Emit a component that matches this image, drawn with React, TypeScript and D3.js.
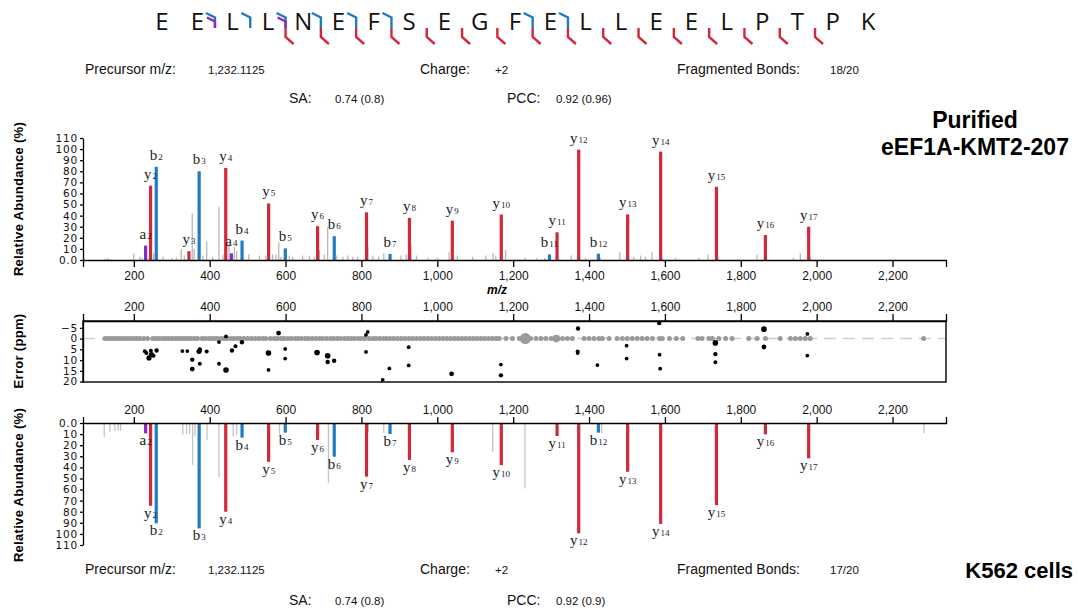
import React, { useEffect, useRef } from "react";
import * as d3 from "d3";

// peptide and which bonds were seen (gap n sits between residue n and n+1)
const sequence = ["E", "E", "L", "L", "N", "E", "F", "S", "E", "G", "F", "E", "L", "L", "E", "E", "L", "P", "T", "P", "K"];
const bGaps = [2, 3, 4, 5, 6, 7, 11, 12];
const aGaps = [2, 4];
const yGaps = [4, 5, 6, 7, 8, 9, 10, 11, 12, 13, 14, 15, 16, 17, 18, 19];

// [ion type, number, m/z, relative abundance]
const topIons: [string, number, number, number][] = [
  ["a", 2, 231.1, 13], ["y", 2, 244.17, 67], ["b", 2, 259.09, 84], ["y", 3, 345.21, 8],
  ["b", 3, 372.18, 80], ["y", 4, 442.27, 83], ["a", 4, 457.27, 6], ["b", 4, 485.26, 17.5],
  ["y", 5, 555.35, 51], ["b", 5, 599.3, 10.5], ["y", 6, 684.39, 30.5], ["b", 6, 728.35, 21.5],
  ["y", 7, 813.44, 43], ["b", 7, 875.42, 5.5], ["y", 8, 926.52, 38], ["y", 9, 1039.6, 35.5],
  ["y", 10, 1168.65, 41], ["b", 11, 1295.58, 5], ["y", 11, 1315.72, 25], ["y", 12, 1372.74, 99.5],
  ["b", 12, 1424.62, 5.7], ["y", 13, 1501.78, 41.2], ["y", 14, 1588.81, 97.7], ["y", 15, 1735.88, 66],
  ["y", 16, 1864.92, 22.5], ["y", 17, 1978.97, 30],
];

const bottomIons: [string, number, number, number][] = [
  ["a", 2, 231.1, 9.3], ["y", 2, 244.17, 74.6], ["b", 2, 259.09, 90.5], ["b", 3, 372.18, 95],
  ["y", 4, 442.27, 80], ["b", 4, 485.26, 13.2], ["y", 5, 555.35, 35], ["b", 5, 599.3, 8.7],
  ["y", 6, 684.39, 15.3], ["b", 6, 728.35, 30.4], ["y", 7, 813.44, 48.4], ["b", 7, 875.42, 10],
  ["y", 8, 926.52, 33.4], ["y", 9, 1039.6, 26.4], ["y", 10, 1168.65, 38], ["y", 11, 1315.72, 11.7],
  ["y", 12, 1372.74, 99.5], ["b", 12, 1424.62, 8.7], ["y", 13, 1501.78, 44], ["y", 14, 1588.81, 91],
  ["y", 15, 1735.88, 74], ["y", 16, 1864.92, 10.2], ["y", 17, 1978.97, 31.8],
];

// unassigned peaks [m/z, abundance]
const topNoise: [number, number][] = [
  [123, 1], [130, 1.5], [134, 1], [200, 6], [216, 3], [222, 2], [252, 6], [277, 3], [300, 2], [312, 2],
  [325, 10], [333, 4], [354, 42], [359, 10], [382, 4], [392, 17], [408, 3], [424.5, 48], [435, 5],
  [451, 14], [465, 12], [471, 8], [503, 5], [531, 4], [548, 4], [566, 5], [575, 5], [582, 16], [588, 3],
  [610, 4], [619, 3], [645, 4], [663, 4], [676, 3], [689, 9], [702, 5], [711, 30], [735, 4], [751, 3],
  [764, 4], [777, 3], [790, 3], [817, 12], [830, 4], [845, 3], [859, 6], [904, 4], [918, 5], [931, 14],
  [945, 4], [975, 2], [1000, 2], [1031, 7], [1053, 4], [1093, 3], [1128, 4], [1147, 6], [1154, 4],
  [1180, 9], [1232, 2], [1262, 1.5], [1283, 2], [1353, 4], [1391, 2], [1430, 2], [1481, 7], [1518, 3],
  [1536, 4], [1549, 3], [1566, 7], [1593, 2], [1628, 2], [1689, 2], [1714, 5], [1740, 2], [1843, 5],
  [1939, 2], [1957, 6], [1983, 2],
];

const bottomNoise: [number, number][] = [
  [122, 12.6], [137, 8], [150, 7], [159, 7], [165, 7], [329, 10.5], [339, 10], [347, 10], [355, 38],
  [361, 12], [393, 15], [424.5, 49], [462, 12], [471, 11], [584, 10], [713, 54], [818, 8], [859, 9],
  [1146, 26], [1231, 59], [1433, 9], [2283, 9],
];

// mass error points [m/z, ppm, radius]
const errorPoints: [number, number, number][] = [
  [229, 5.9, 2], [233, 6.7, 2], [240, 9, 2.6], [245, 5.6, 2], [246.5, 7.5, 2.6], [252, 8, 2], [260, 5.5, 2.2],
  [328, 5.8, 1.9], [341, 5.8, 1.9], [354, 9.8, 2.2], [354, 14.2, 2.4], [372, 5.9, 2.6], [374, 5.1, 2.2],
  [374, 11.7, 2], [392, 6, 2], [424.5, 1.6, 1.9], [424.5, 11.7, 1.9], [443, -1, 1.9], [443, 14.6, 2.8],
  [458.7, 5.5, 2.2], [468, 3.6, 2], [485, 1.7, 2.2], [555, 6.7, 2.8], [555, 14.6, 1.9], [581.6, -2.6, 2.4],
  [599, 4.8, 1.9], [599, 9.3, 1.9], [683, 6.5, 2.8], [711, 8, 2.8], [711, 10.9, 2.2], [728, 10.3, 2.2],
  [812, -1.7, 1.9], [816.5, -3.1, 1.9], [812, 6.2, 1.9], [856, 19.2, 1.9], [873.7, 13.9, 1.9],
  [924.6, 4, 1.9], [924.6, 12.5, 1.9], [1037.7, 16.4, 2.4], [1167.6, 12.1, 1.9], [1167.6, 17.1, 2.2],
  [1371, -4.7, 2.2], [1370, 5.9, 1.9], [1370, 6.7, 1.9], [1422, 12.3, 1.9], [1499, 3.3, 1.9],
  [1499, 9.3, 1.9], [1585, -7.3, 2.2], [1586, 7.5, 1.9], [1587.6, 14, 1.9], [1733, 2, 2.8],
  [1733, 7.2, 2.2], [1733, 11, 1.9], [1861, -4.4, 2.8], [1861, 3.9, 2.4], [1975.5, -2.2, 1.9],
  [1975.5, 7.9, 1.9],
];

// unassigned peaks sitting on the zero line
const zeroDots = [
  124, 131, 138, 146, 153, 160, 168, 176, 184, 192, 200, 208, 216, 226, 236, 250, 258, 266, 275, 283,
  291, 300, 308, 315, 322, 330, 338, 345, 352, 360, 368, 380, 388, 397, 405, 413, 420, 430, 438, 446,
  455, 463, 472, 480, 490, 500, 510, 520, 530, 540, 548, 560, 570, 578, 588, 596, 606, 615, 625, 633,
  642, 652, 660, 670, 680, 690, 698, 708, 718, 727, 736, 745, 755, 764, 773, 782, 792, 800, 808, 820,
  830, 838, 848, 858, 866, 875, 885, 895, 905, 915, 925, 935, 945, 955, 965, 975, 985, 995, 1005, 1015,
  1025, 1035, 1045, 1055, 1065, 1075, 1085, 1095, 1105, 1115, 1125, 1135, 1145, 1155, 1163, 1181, 1198,
  1216, 1246, 1260, 1273, 1286, 1300, 1330, 1343, 1356, 1387, 1400, 1413, 1426, 1435, 1453, 1474, 1488,
  1501, 1514, 1527, 1540, 1553, 1567, 1586, 1593, 1612, 1630, 1647, 1687, 1698, 1716, 1725, 1742, 1760,
  1777, 1821, 1843, 1865, 1904, 1931, 1944, 1957, 1970, 1983, 2282,
];
const precursorMz = 1232.11;
const bigDotMz = 1314;

const mzTicks = [200, 400, 600, 800, 1000, 1200, 1400, 1600, 1800, 2000, 2200];
const abundanceTicks = [0, 10, 20, 30, 40, 50, 60, 70, 80, 90, 100, 110];
const errorTicks = [-5, 0, 5, 10, 15, 20];

const ionColor: Record<string, string> = { a: "#8b27c4", b: "#1f7bc6", y: "#d1283b" };

const App = () => {
  const ref = useRef<SVGSVGElement>(null);

  useEffect(() => {
    const svg = d3.select(ref.current);
    svg.selectAll("*").remove();

    const x = d3.scaleLinear().domain([66, 2341]).range([83, 946]);
    const yTop = d3.scaleLinear().domain([0, 110]).range([260, 138]);
    const yBot = d3.scaleLinear().domain([0, 110]).range([423, 545]);
    const yErr = d3.scaleLinear().domain([-8.2, 20.2]).range([321, 382]);
    const seqX = d3.scaleLinear().domain([0, 20]).range([162, 868]);

    const sans = "'Liberation Sans', Arial, sans-serif";
    const wide = "'DejaVu Sans', Verdana, sans-serif";
    const serif = "'Liberation Serif', 'Times New Roman', serif";

    // ---- sequence with fragment markers ----
    svg.append("g").selectAll("text")
      .data(sequence)
      .enter().append("text")
      .attr("x", (d, i) => seqX(i))
      .attr("y", 30)
      .attr("text-anchor", "middle")
      .attr("font-family", "'Open Sans', 'Noto Sans', sans-serif")
      .attr("font-size", 24)
      .attr("fill", "#111")
      .text((d) => d);

    const marks = svg.append("g").attr("fill", "none").attr("stroke-width", 2.4);
    bGaps.forEach((g) => {
      const gx = seqX(g - 0.5);
      marks.append("path").attr("d", `M${gx - 9},13L${gx},17.5L${gx},28`).attr("stroke", ionColor.b);
    });
    aGaps.forEach((g) => {
      const gx = seqX(g - 0.5);
      marks.append("path").attr("d", `M${gx - 8},17.5L${gx},21.5L${gx},28`).attr("stroke", ionColor.a);
    });
    yGaps.forEach((g) => {
      const gx = seqX(g - 0.5);
      marks.append("path").attr("d", `M${gx},28L${gx},37L${gx + 8},44`).attr("stroke", ionColor.y);
    });

    // ---- info rows ----
    const info = (y1: number, y2: number, bonds: string, pcc: string) => {
      const g = svg.append("g").attr("font-family", sans).attr("fill", "#111");
      const lab = (tx: number, ty: number, t: string) =>
        g.append("text").attr("x", tx).attr("y", ty).attr("font-size", 14).text(t);
      const val = (tx: number, ty: number, t: string) =>
        g.append("text").attr("x", tx).attr("y", ty).attr("font-size", 11.5).text(t);
      lab(85, y1, "Precursor m/z:");
      val(208, y1, "1,232.1125");
      lab(420, y1, "Charge:");
      val(495, y1, "+2");
      lab(677, y1, "Fragmented Bonds:");
      val(830, y1, bonds);
      lab(289, y2, "SA:");
      val(335, y2, "0.74 (0.8)");
      lab(507, y2, "PCC:");
      val(556, y2, pcc);
    };
    info(74, 103, "18/20", "0.92 (0.96)");
    info(574, 605, "17/20", "0.92 (0.9)");

    // ---- sample titles ----
    const title = svg.append("g").attr("font-family", sans).attr("font-weight", "bold").attr("fill", "#000");
    title.append("text").attr("x", 975).attr("y", 128).attr("text-anchor", "middle").attr("font-size", 23).text("Purified");
    title.append("text").attr("x", 975).attr("y", 155).attr("text-anchor", "middle").attr("font-size", 23).text("eEF1A-KMT2-207");
    title.append("text").attr("x", 1073).attr("y", 578).attr("text-anchor", "end").attr("font-size", 22).text("K562 cells");

    const yTitle = (cy: number, t: string) =>
      svg.append("text")
        .attr("transform", `translate(23,${cy}) rotate(-90)`)
        .attr("text-anchor", "middle")
        .attr("font-family", sans)
        .attr("font-weight", "bold")
        .attr("font-size", 13)
        .attr("letter-spacing", 0.3)
        .text(t);
    yTitle(199, "Relative Abundance (%)");
    yTitle(351, "Error (ppm)");
    yTitle(485, "Relative Abundance (%)");

    const styleAxis = (g: any, font: string, size: number, spacing = 0) => {
      g.attr("font-family", font).attr("font-size", size);
      g.selectAll("path, line").attr("stroke", "#000").attr("stroke-width", 1.3);
      g.selectAll("text").attr("fill", "#111").attr("letter-spacing", spacing);
    };
    const abFormat = (d: any) => (d === 0 ? "0.0" : String(d));

    // ---- top spectrum ----
    const top = svg.append("g");
    top.append("g").selectAll("line")
      .data(topNoise)
      .enter().append("line")
      .attr("x1", (d) => x(d[0])).attr("x2", (d) => x(d[0]))
      .attr("y1", yTop(0)).attr("y2", (d) => yTop(d[1]))
      .attr("stroke", "#b8b8b8").attr("stroke-width", 1.3);
    top.append("g").selectAll("line")
      .data(topIons)
      .enter().append("line")
      .attr("x1", (d) => x(d[2])).attr("x2", (d) => x(d[2]))
      .attr("y1", yTop(0)).attr("y2", (d) => yTop(d[3]))
      .attr("stroke", (d) => ionColor[d[0]]).attr("stroke-width", 3.2);
    const topLab = top.append("g").selectAll("text")
      .data(topIons)
      .enter().append("text")
      .attr("x", (d) => x(d[2]))
      .attr("y", (d) => yTop(d[3]) - 7)
      .attr("text-anchor", "middle")
      .attr("font-family", serif)
      .attr("font-size", 15)
      .attr("fill", "#222");
    topLab.append("tspan").text((d) => d[0]);
    topLab.append("tspan").attr("font-size", 9).attr("dx", 1).text((d) => d[1]);

    const topX = top.append("g").attr("transform", `translate(0,${yTop(0)})`)
      .call(d3.axisBottom(x).tickValues(mzTicks).tickSize(7).tickSizeOuter(7).tickPadding(4).tickFormat(d3.format(",") as any));
    styleAxis(topX, sans, 12);
    const topY = top.append("g").attr("transform", "translate(83,0)")
      .call(d3.axisLeft(yTop).tickValues(abundanceTicks).tickSize(3).tickSizeOuter(0).tickPadding(2).tickFormat(abFormat));
    styleAxis(topY, wide, 10.5, 0.8);
    top.append("text")
      .attr("x", 497).attr("y", 294)
      .attr("text-anchor", "middle")
      .attr("font-family", sans).attr("font-style", "italic").attr("font-weight", "bold").attr("font-size", 12)
      .text("m/z");

    // ---- error plot ----
    const err = svg.append("g");
    err.append("line")
      .attr("x1", 83).attr("x2", 946).attr("y1", yErr(0)).attr("y2", yErr(0))
      .attr("stroke", "#cfcfcf").attr("stroke-width", 1.5).attr("stroke-dasharray", "12,7");
    err.append("g").selectAll("circle")
      .data(zeroDots)
      .enter().append("circle")
      .attr("cx", (d) => x(d)).attr("cy", yErr(0)).attr("r", 2.5)
      .attr("fill", "#9a9a9a");
    err.append("circle").attr("cx", x(precursorMz)).attr("cy", yErr(0)).attr("r", 5.5).attr("fill", "#9a9a9a");
    err.append("circle").attr("cx", x(bigDotMz)).attr("cy", yErr(0)).attr("r", 3.8).attr("fill", "#9a9a9a");
    err.append("g").selectAll("circle")
      .data(errorPoints)
      .enter().append("circle")
      .attr("cx", (d) => x(d[0])).attr("cy", (d) => yErr(d[1])).attr("r", (d) => d[2])
      .attr("fill", "#000");
    err.append("rect")
      .attr("x", 83).attr("y", 321).attr("width", 946 - 83).attr("height", 382 - 321)
      .attr("fill", "none").attr("stroke", "#000").attr("stroke-width", 1.4);
    const errX = err.append("g").attr("transform", "translate(0,321)")
      .call(d3.axisTop(x).tickValues(mzTicks).tickSize(7).tickSizeOuter(7).tickPadding(3).tickFormat(d3.format(",") as any));
    styleAxis(errX, sans, 12);
    const errY = err.append("g").attr("transform", "translate(83,0)")
      .call(d3.axisLeft(yErr).tickValues(errorTicks).tickSize(3).tickSizeOuter(0).tickPadding(2));
    styleAxis(errY, wide, 10.5, 0.8);

    // ---- bottom (mirrored) spectrum ----
    const bot = svg.append("g");
    bot.append("g").selectAll("line")
      .data(bottomNoise)
      .enter().append("line")
      .attr("x1", (d) => x(d[0])).attr("x2", (d) => x(d[0]))
      .attr("y1", yBot(0)).attr("y2", (d) => yBot(d[1]))
      .attr("stroke", "#c4c4c4").attr("stroke-width", 1.3);
    bot.append("g").selectAll("line")
      .data(bottomIons)
      .enter().append("line")
      .attr("x1", (d) => x(d[2])).attr("x2", (d) => x(d[2]))
      .attr("y1", yBot(0)).attr("y2", (d) => yBot(d[3]))
      .attr("stroke", (d) => ionColor[d[0]]).attr("stroke-width", 3.2);
    const botLab = bot.append("g").selectAll("text")
      .data(bottomIons)
      .enter().append("text")
      .attr("x", (d) => x(d[2]))
      .attr("y", (d) => yBot(d[3]) + 12)
      .attr("text-anchor", "middle")
      .attr("font-family", serif)
      .attr("font-size", 15)
      .attr("fill", "#222");
    botLab.append("tspan").text((d) => d[0]);
    botLab.append("tspan").attr("font-size", 9).attr("dx", 1).text((d) => d[1]);

    const botX = bot.append("g").attr("transform", `translate(0,${yBot(0)})`)
      .call(d3.axisTop(x).tickValues(mzTicks).tickSize(6).tickSizeOuter(6).tickPadding(3).tickFormat(d3.format(",") as any));
    styleAxis(botX, sans, 12);
    const botY = bot.append("g").attr("transform", "translate(83,0)")
      .call(d3.axisLeft(yBot).tickValues(abundanceTicks).tickSize(3).tickSizeOuter(0).tickPadding(2).tickFormat(abFormat));
    styleAxis(botY, wide, 10.5, 0.8);
  }, []);

  return (
    <svg
      ref={ref}
      width={1078}
      height={612}
      style={{ position: "absolute", left: 0, top: 0, background: "#fff" }}
    />
  );
};

export default App;
